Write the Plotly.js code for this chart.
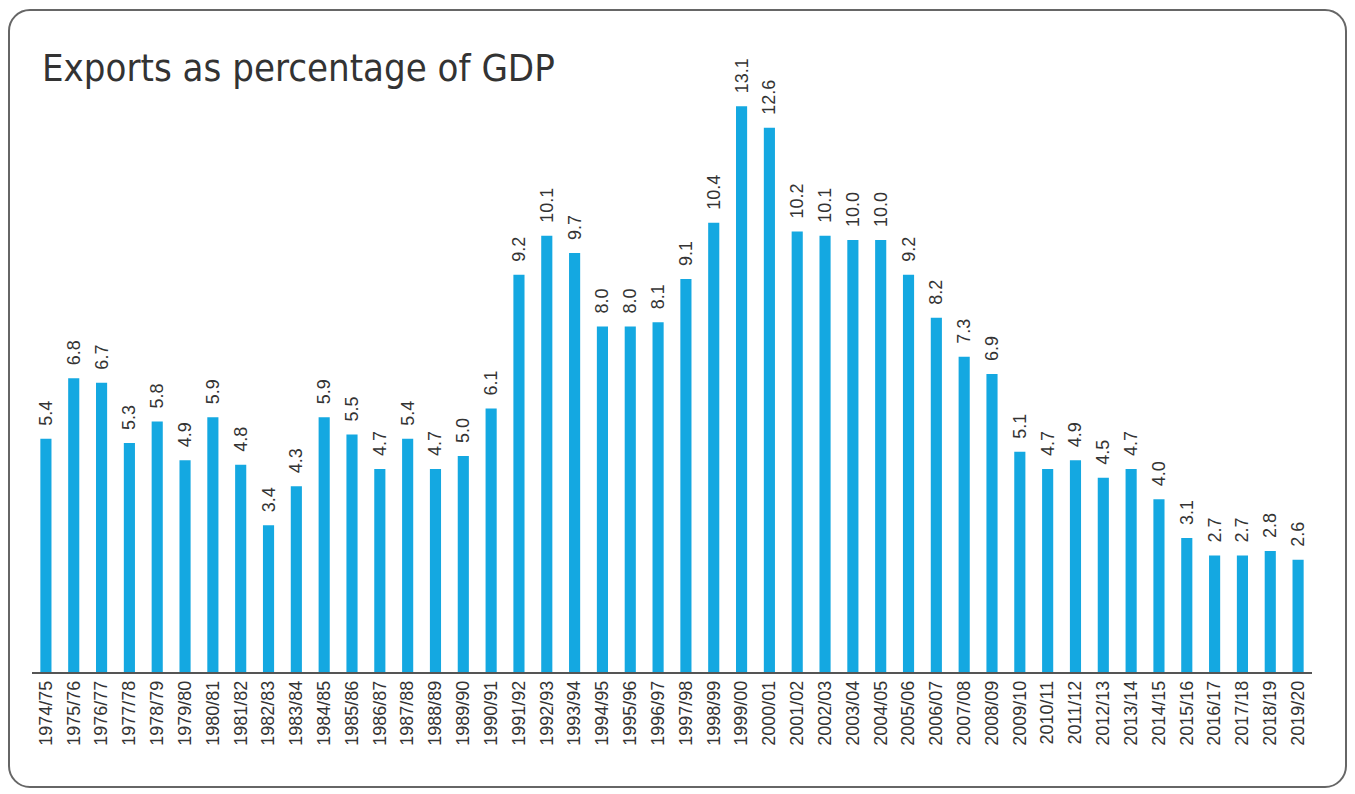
<!DOCTYPE html>
<html><head><meta charset="utf-8">
<script src="https://cdn.plot.ly/plotly-3.0.1.min.js"></script>
<style>
html,body{margin:0;padding:0;background:#fff;}
#wrap{position:relative;width:1355px;height:794px;overflow:hidden;}
#frame{position:absolute;left:8px;top:9px;width:1339px;height:779px;border:2px solid #666;border-radius:22px;box-sizing:border-box;pointer-events:none;}
#chart{position:absolute;left:0;top:0;width:1355px;height:794px;}
</style></head>
<body><div id="wrap"><div id="chart"></div><div id="frame"></div></div>
<script>
const years = ["1974/75","1975/76","1976/77","1977/78","1978/79","1979/80","1980/81","1981/82","1982/83","1983/84","1984/85","1985/86","1986/87","1987/88","1988/89","1989/90","1990/91","1991/92","1992/93","1993/94","1994/95","1995/96","1996/97","1997/98","1998/99","1999/00","2000/01","2001/02","2002/03","2003/04","2004/05","2005/06","2006/07","2007/08","2008/09","2009/10","2010/11","2011/12","2012/13","2013/14","2014/15","2015/16","2016/17","2017/18","2018/19","2019/20"];
const exportsPct = [5.4,6.8,6.7,5.3,5.8,4.9,5.9,4.8,3.4,4.3,5.9,5.5,4.7,5.4,4.7,5.0,6.1,9.2,10.1,9.7,8.0,8.0,8.1,9.1,10.4,13.1,12.6,10.2,10.1,10.0,10.0,9.2,8.2,7.3,6.9,5.1,4.7,4.9,4.5,4.7,4.0,3.1,2.7,2.7,2.8,2.6];
const titleText = "Exports as percentage of GDP";

Plotly.newPlot('chart', [{
  type:'bar', x: years, y: exportsPct,
  text: exportsPct.map(v=>'\u00a0\u00a0'+v.toFixed(1)),
  textposition:'outside', textangle:-90, constraintext:'none', cliponaxis:false,
  textfont:{family:'Liberation Sans, Arial, sans-serif', size:18, color:'#333'},
  marker:{color:'#14a8e1'}, hoverinfo:'x+y'
}], {
  width:1355, height:794,
  paper_bgcolor:'rgba(0,0,0,0)', plot_bgcolor:'rgba(0,0,0,0)',
  margin:{l:32, r:43, t:60, b:122},
  bargap:0.6,
  showlegend:false,
  title:{text:titleText, x:42/1355, xref:'container', xanchor:'left', y:1-68/794, yref:'container', yanchor:'middle',
         font:{family:'DejaVu Sans Condensed, sans-serif', size:38, color:'#333'}},
  xaxis:{type:'category', tickangle:-90, showline:true, linecolor:'#555', linewidth:1.5, ticks:'', showgrid:false,
         tickfont:{family:'Liberation Sans, Arial, sans-serif', size:18, color:'#333'}, automargin:false},
  yaxis:{range:[0,14.17], visible:false, showgrid:false, zeroline:false}
}, {displayModeBar:false, staticPlot:true});
</script></body></html>
